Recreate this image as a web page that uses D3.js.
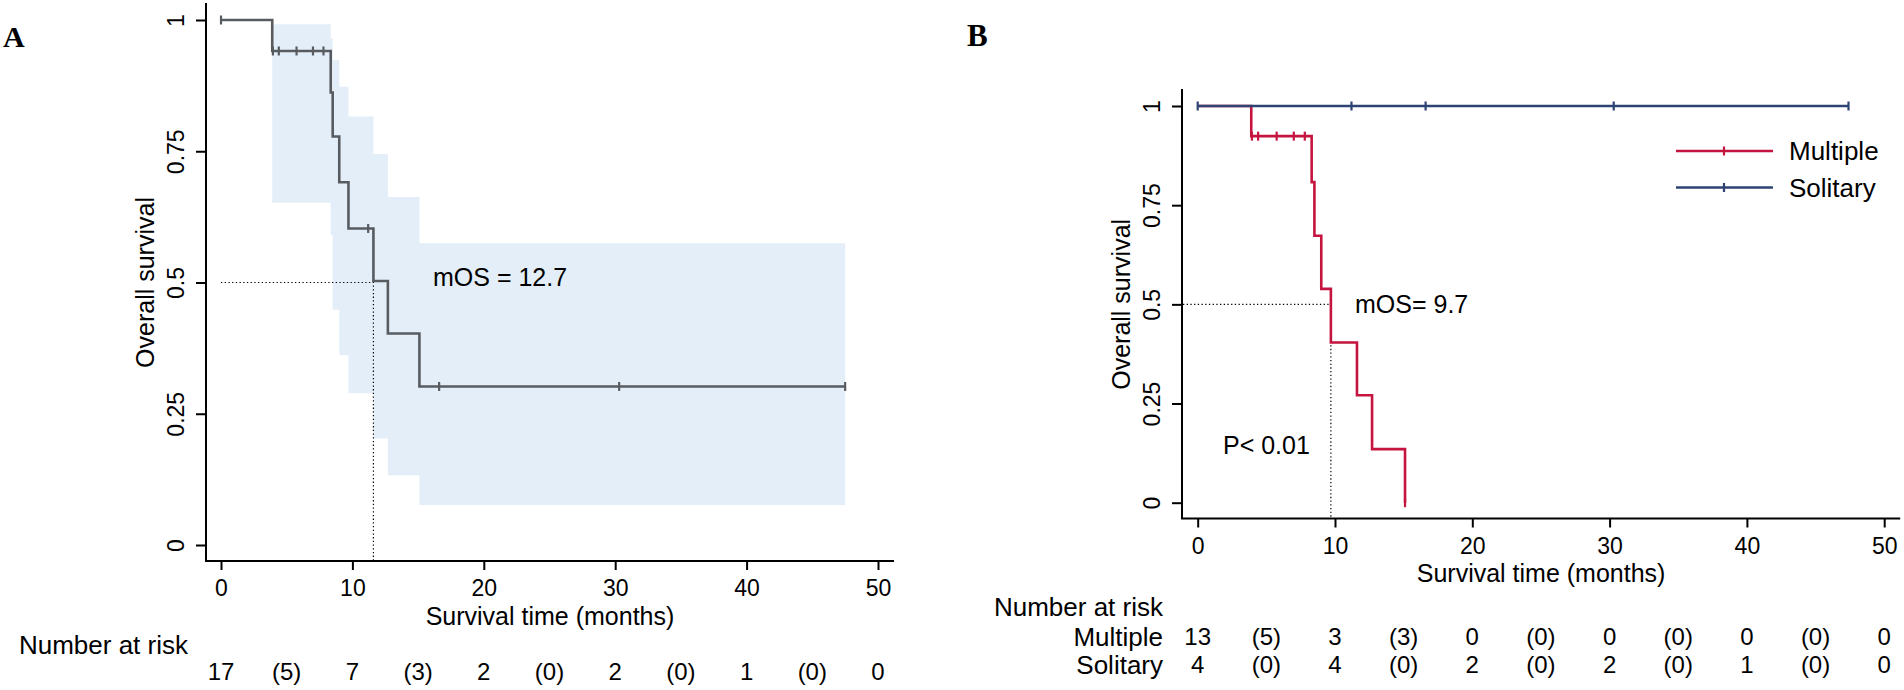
<!DOCTYPE html>
<html>
<head>
<meta charset="utf-8">
<script src="https://cdnjs.cloudflare.com/ajax/libs/d3/7.8.5/d3.min.js"></script>
<style>
  body { margin: 0; background: white; }
  text { font-family: "Liberation Sans", Arial, Helvetica, sans-serif; fill: black; }
</style>
</head>
<body>
<script>
// ---------- data ----------
var timeTicks = [0, 10, 20, 30, 40, 50];
var survTicks = [0, 0.25, 0.5, 0.75, 1];
var survTickLabels = ["0", "0.25", "0.5", "0.75", "1"];
var riskTimes = [0, 5, 10, 15, 20, 25, 30, 35, 40, 45, 50];

// Panel A: all patients
var allTimes = [0, 3.9, 8.35, 8.5, 9.0, 9.7, 11.6, 12.7, 15.1];
var allSurv = [1, 0.941, 0.862, 0.778, 0.691, 0.603, 0.503, 0.403, 0.302];
var allLastTime = 47.5;
var allCensored = [0, 3.95, 4.4, 5.75, 7.0, 7.8, 11.2, 16.6, 30.3, 47.5];
var ciTimes = [3.9, 8.35, 8.5, 9.0, 9.7, 11.6, 12.7, 15.1];
var ciUpper = [0.992, 0.965, 0.924, 0.873, 0.816, 0.745, 0.663, 0.575];
var ciLower = [0.652, 0.59, 0.448, 0.362, 0.289, 0.203, 0.133, 0.076];
var allRisk = ["17", "(5)", "7", "(3)", "2", "(0)", "2", "(0)", "1", "(0)", "0"];
var allMedianTime = 11.6;
var allMedianLabel = "mOS = 12.7";

// Panel B: multiple vs solitary
var groupNames = ["Multiple", "Solitary"];
var multTimes = [0, 3.9, 8.3, 8.5, 9.0, 9.7, 11.6, 12.7, 15.1];
var multSurv = [1, 0.924, 0.808, 0.673, 0.539, 0.404, 0.271, 0.135, 0];
var multLastTime = 15.1;
var multCensored = [3.95, 4.4, 5.75, 7.0, 7.8, 15.1];
var soliTimes = [0];
var soliSurv = [1];
var soliLastTime = 47.4;
var soliCensored = [0, 11.2, 16.6, 30.3, 47.4];
var multRisk = ["13", "(5)", "3", "(3)", "0", "(0)", "0", "(0)", "0", "(0)", "0"];
var soliRisk = ["4", "(0)", "4", "(0)", "2", "(0)", "2", "(0)", "1", "(0)", "0"];
var multMedianTime = 9.7;
var multMedianLabel = "mOS= 9.7";
var pLabel = "P< 0.01";

var grayLine = "#585c61";
var ciFill = "#e3eef9";
var redLine = "#c4143f";
var blueLine = "#2d4373";

var svg = d3.select("body")
  .append("svg")
  .attr("width", 1904)
  .attr("height", 690);

// ---------- helpers ----------
function stepValue(times, surv, t) {
  var i = d3.bisectRight(times, t) - 1;
  return surv[Math.max(i, 0)];
}

function drawAxes(x, y, axisX, axisY) {
  var right = x.range()[1] + 16;
  var top = y.range()[1] - 17;

  var bottomAxis = svg.append("g")
    .attr("transform", `translate(0, ${axisY})`)
    .call(d3.axisBottom(x).tickValues(timeTicks).tickSize(9).tickSizeOuter(0));
  bottomAxis.select(".domain").remove();
  bottomAxis.selectAll("line").attr("stroke-width", 2);
  bottomAxis.selectAll("text")
    .attr("y", 27)
    .attr("dy", "0.35em")
    .style("font-size", "23px");

  var leftAxis = svg.append("g")
    .attr("transform", `translate(${axisX}, 0)`)
    .call(d3.axisLeft(y).tickValues(survTicks)
      .tickFormat((d, i) => survTickLabels[i])
      .tickSize(10).tickSizeOuter(0));
  leftAxis.select(".domain").remove();
  leftAxis.selectAll("line").attr("stroke-width", 2);
  leftAxis.selectAll("text")
    .attr("transform", "rotate(-90)")
    .attr("x", 0)
    .attr("y", -30)
    .attr("dy", "0.35em")
    .attr("text-anchor", "middle")
    .style("font-size", "23px");

  svg.append("path")
    .attr("d", `M${axisX},${top}V${axisY}H${right}`)
    .attr("fill", "none")
    .attr("stroke", "black")
    .attr("stroke-width", 2);

  // axis titles
  svg.append("text")
    .attr("x", (axisX + right) / 2)
    .attr("y", axisY + 55)
    .attr("dy", "0.35em")
    .attr("text-anchor", "middle")
    .style("font-size", "25px")
    .text("Survival time (months)");

  svg.append("text")
    .attr("transform", `translate(${axisX - 61}, ${y(0.5)}) rotate(-90)`)
    .attr("dy", "0.35em")
    .attr("text-anchor", "middle")
    .style("font-size", "25px")
    .text("Overall survival");
}

function drawCurve(x, y, times, surv, lastTime, censored, color) {
  var pts = times.map((t, i) => [t, surv[i]]);
  pts.push([lastTime, surv[surv.length - 1]]);

  var line = d3.line()
    .curve(d3.curveStepAfter)
    .x(d => x(d[0]))
    .y(d => y(d[1]));

  svg.append("path")
    .datum(pts)
    .attr("d", line)
    .attr("fill", "none")
    .attr("stroke", color)
    .attr("stroke-width", 2.6);

  svg.selectAll(null)
    .data(censored)
    .enter()
    .append("line")
    .attr("x1", d => x(d))
    .attr("x2", d => x(d))
    .attr("y1", d => y(stepValue(times, surv, d)) - 4.5)
    .attr("y2", d => y(stepValue(times, surv, d)) + 4.5)
    .attr("stroke", color)
    .attr("stroke-width", 2.2);
}

function drawMedian(x, y, t, startX, axisY) {
  svg.append("path")
    .attr("d", `M${startX},${y(0.5)}H${x(t)}V${axisY}`)
    .attr("fill", "none")
    .attr("stroke", "black")
    .attr("stroke-width", 1.2)
    .attr("stroke-dasharray", "1.3,2.4");
}

function drawRiskRow(x, values, rowY) {
  svg.selectAll(null)
    .data(values)
    .enter()
    .append("text")
    .attr("x", (d, i) => x(riskTimes[i]))
    .attr("y", rowY)
    .attr("dy", "0.35em")
    .attr("text-anchor", "middle")
    .style("font-size", "24px")
    .text(d => d);
}

// ---------- Panel A ----------
var xA = d3.scaleLinear().domain([0, 50]).range([221, 878]);
var yA = d3.scaleLinear().domain([0, 1]).range([545, 20]);

// confidence band
var ciPts = ciTimes.map((t, i) => [t, ciLower[i], ciUpper[i]]);
ciPts.push([allLastTime, ciLower[ciLower.length - 1], ciUpper[ciUpper.length - 1]]);
var band = d3.area()
  .curve(d3.curveStepAfter)
  .x(d => xA(d[0]))
  .y0(d => yA(d[1]))
  .y1(d => yA(d[2]));
svg.append("path")
  .datum(ciPts)
  .attr("d", band)
  .attr("fill", ciFill);

drawAxes(xA, yA, 206, 561);
drawMedian(xA, yA, allMedianTime, xA(0), 561);
drawCurve(xA, yA, allTimes, allSurv, allLastTime, allCensored, grayLine);

svg.append("text")
  .attr("x", 433)
  .attr("y", yA(0.5) - 5)
  .attr("dy", "0.35em")
  .style("font-size", "25px")
  .text(allMedianLabel);

svg.append("text")
  .attr("x", 3)
  .attr("y", 47)
  .style("font-family", "'Liberation Serif', 'Times New Roman', serif")
  .style("font-weight", "bold")
  .style("font-size", "30px")
  .text("A");

svg.append("text")
  .attr("x", 188)
  .attr("y", 645)
  .attr("dy", "0.35em")
  .attr("text-anchor", "end")
  .style("font-size", "26px")
  .text("Number at risk");
drawRiskRow(xA, allRisk, 672);

// ---------- Panel B ----------
var xB = d3.scaleLinear().domain([0, 50]).range([1197.7, 1884.2]);
var yB = d3.scaleLinear().domain([0, 1]).range([502.7, 106]);

drawAxes(xB, yB, 1182, 518.5);
drawMedian(xB, yB, multMedianTime, 1183, 518.5);
drawCurve(xB, yB, multTimes, multSurv, multLastTime, multCensored, redLine);
drawCurve(xB, yB, soliTimes, soliSurv, soliLastTime, soliCensored, blueLine);

svg.append("text")
  .attr("x", 1355)
  .attr("y", yB(0.5))
  .attr("dy", "0.35em")
  .style("font-size", "25px")
  .text(multMedianLabel);

svg.append("text")
  .attr("x", 1223)
  .attr("y", 445)
  .attr("dy", "0.35em")
  .style("font-size", "25px")
  .text(pLabel);

svg.append("text")
  .attr("x", 967)
  .attr("y", 46)
  .style("font-family", "'Liberation Serif', 'Times New Roman', serif")
  .style("font-weight", "bold")
  .style("font-size", "31px")
  .text("B");

// legend
var legendColors = [redLine, blueLine];
var legend = svg.selectAll(null)
  .data(groupNames)
  .enter()
  .append("g")
  .attr("transform", (d, i) => `translate(1676, ${151 + i * 36.5})`);
legend.append("line")
  .attr("x1", 0).attr("x2", 97)
  .attr("stroke", (d, i) => legendColors[i])
  .attr("stroke-width", 2.5);
legend.append("line")
  .attr("x1", 48).attr("x2", 48)
  .attr("y1", -4.5).attr("y2", 4.5)
  .attr("stroke", (d, i) => legendColors[i])
  .attr("stroke-width", 2.2);
legend.append("text")
  .attr("x", 113)
  .attr("dy", "0.35em")
  .style("font-size", "26px")
  .text(d => d);

// risk table
svg.append("text")
  .attr("x", 1163)
  .attr("y", 607)
  .attr("dy", "0.35em")
  .attr("text-anchor", "end")
  .style("font-size", "26px")
  .text("Number at risk");
[multRisk, soliRisk].forEach(function(row, i) {
  svg.append("text")
    .attr("x", 1163)
    .attr("y", 637 + i * 28)
    .attr("dy", "0.35em")
    .attr("text-anchor", "end")
    .style("font-size", "26px")
    .text(groupNames[i]);
  drawRiskRow(xB, row, 637 + i * 28);
});
</script>
</body>
</html>
